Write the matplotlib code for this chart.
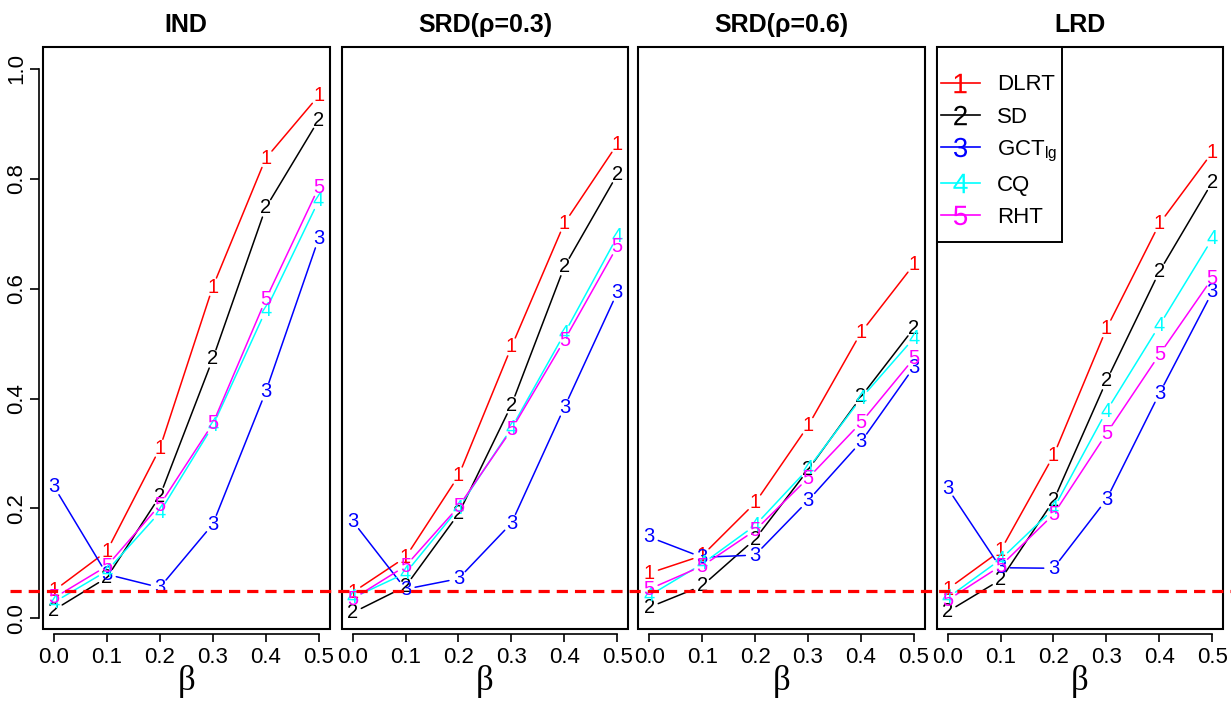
import matplotlib
matplotlib.use("Agg")
import matplotlib.pyplot as plt
import matplotlib.transforms as mtransforms
from matplotlib.lines import Line2D
from matplotlib.patches import Rectangle

plt.rcParams['font.family'] = ['Liberation Sans', 'DejaVu Sans']
plt.rcParams['mathtext.fontset'] = 'custom'
plt.rcParams['mathtext.rm'] = 'Liberation Sans'
plt.rcParams['mathtext.it'] = 'Liberation Sans:italic'

# ---------------- data ----------------
beta = [0.0, 0.1, 0.2, 0.3, 0.4, 0.5]
panel_titles = ["IND", "SRD(ρ=0.3)", "SRD(ρ=0.6)", "LRD"]
method_names = ["DLRT", "SD", r"GCT$_{\mathrm{lg}}$", "CQ", "RHT"]
method_symbols = ["1", "2", "3", "4", "5"]
method_colors = ["#FF0000", "#000000", "#0000FF", "#00FFFF", "#FF00FF"]
x_ticks = [0.0, 0.1, 0.2, 0.3, 0.4, 0.5]
x_tick_labels = ["0.0", "0.1", "0.2", "0.3", "0.4", "0.5"]
y_ticks = [0.0, 0.2, 0.4, 0.6, 0.8, 1.0]
y_tick_labels = ["0.0", "0.2", "0.4", "0.6", "0.8", "1.0"]
nominal_level = 0.05

# IND
ind_dlrt = [0.050, 0.122, 0.309, 0.603, 0.837, 0.951]
ind_sd   = [0.015, 0.074, 0.222, 0.472, 0.747, 0.907]
ind_gct  = [0.240, 0.080, 0.056, 0.171, 0.412, 0.691]
ind_cq   = [0.029, 0.086, 0.193, 0.350, 0.560, 0.760]
ind_rht  = [0.037, 0.095, 0.206, 0.354, 0.580, 0.784]
# SRD rho=0.3
srd3_dlrt = [0.047, 0.111, 0.259, 0.494, 0.719, 0.863]
srd3_sd   = [0.010, 0.058, 0.190, 0.388, 0.640, 0.808]
srd3_gct  = [0.177, 0.053, 0.072, 0.173, 0.384, 0.593]
srd3_cq   = [0.037, 0.082, 0.200, 0.346, 0.518, 0.695]
srd3_rht  = [0.035, 0.095, 0.203, 0.343, 0.506, 0.677]
# SRD rho=0.6
srd6_dlrt = [0.082, 0.114, 0.210, 0.350, 0.520, 0.644]
srd6_sd   = [0.020, 0.059, 0.144, 0.270, 0.403, 0.528]
srd6_gct  = [0.148, 0.111, 0.115, 0.214, 0.321, 0.457]
srd6_cq   = [0.041, 0.099, 0.169, 0.272, 0.400, 0.510]
srd6_rht  = [0.053, 0.095, 0.160, 0.255, 0.356, 0.473]
# LRD
lrd_dlrt = [0.053, 0.123, 0.296, 0.527, 0.718, 0.848]
lrd_sd   = [0.012, 0.070, 0.214, 0.432, 0.631, 0.794]
lrd_gct  = [0.237, 0.092, 0.091, 0.216, 0.409, 0.594]
lrd_cq   = [0.037, 0.107, 0.199, 0.377, 0.533, 0.691]
lrd_rht  = [0.033, 0.095, 0.189, 0.336, 0.480, 0.619]

panels = [
    [ind_dlrt, ind_sd, ind_gct, ind_cq, ind_rht],
    [srd3_dlrt, srd3_sd, srd3_gct, srd3_cq, srd3_rht],
    [srd6_dlrt, srd6_sd, srd6_gct, srd6_cq, srd6_rht],
    [lrd_dlrt, lrd_sd, lrd_gct, lrd_cq, lrd_rht],
]

# ---------------- figure ----------------
W, H = 1231, 706
fig = plt.figure(figsize=(W / 100, H / 100), dpi=100)

lefts_px = [43, 341.7, 638.3, 936.7]
width_px = 286.5
top_px, bottom_px = 47.4, 628.8
height_px = bottom_px - top_px

axes = []
for i, (lp, series, title) in enumerate(zip(lefts_px, panels, panel_titles)):
    ax = fig.add_axes([lp / W, 1 - bottom_px / H, width_px / W, height_px / H])
    axes.append(ax)
    ax.set_xlim(-0.0206, 0.5206)
    ax.set_ylim(-0.0192, 1.0392)

    for vals, sym, col in zip(series, method_symbols, method_colors):
        for j in range(len(beta) - 1):
            ax.annotate("", xy=(beta[j + 1], vals[j + 1]), xytext=(beta[j], vals[j]),
                        arrowprops=dict(arrowstyle="-", color=col, lw=1.1,
                                        shrinkA=7, shrinkB=7), zorder=2)
        for xv, yv in zip(beta, vals):
            ax.text(xv, yv, sym, color=col, fontsize=14.5, ha="center", va="center",
                    zorder=3)

    # box
    ax.add_patch(Rectangle((0, 0), 1, 1, transform=ax.transAxes, fill=False,
                           edgecolor="black", lw=1.5, zorder=5, clip_on=False))
    for s in ["top", "right"]:
        ax.spines[s].set_visible(False)
    ax.spines["bottom"].set_position(("outward", 4))
    ax.spines["bottom"].set_bounds(0.0, 0.5)
    ax.spines["bottom"].set_linewidth(1.2)
    ax.set_xticks(x_ticks)
    ax.set_xticklabels(x_tick_labels)
    ax.tick_params(axis="x", direction="out", length=6, width=1.2, pad=3,
                   labelsize=16)
    if i == 0:
        ax.spines["left"].set_position(("outward", 3))
        ax.spines["left"].set_bounds(0.0, 1.0)
        ax.spines["left"].set_linewidth(1.2)
        ax.set_yticks(y_ticks)
        ax.set_yticklabels(y_tick_labels)
        ax.tick_params(axis="y", direction="out", length=6.5, width=1.2, pad=2,
                       labelsize=16)
        for lab in ax.get_yticklabels():
            lab.set_rotation(90)
            lab.set_va("center")
    else:
        ax.spines["left"].set_visible(False)
        ax.set_yticks([])

    ax.set_title(title, fontsize=18, fontweight="bold", pad=11)
    ax.set_xlabel("β", fontsize=25, family=["Liberation Serif", "DejaVu Serif"],
                  labelpad=-2)

# legend in the last panel (frame drawn separately, R style)
lax = axes[3]
frame_w = 125 / width_px
frame_h = 195 / height_px
lax.add_patch(Rectangle((0, 1 - frame_h), frame_w, frame_h, transform=lax.transAxes,
                        facecolor="white", edgecolor="black", lw=1.4, zorder=6,
                        clip_on=False))
handles = [Line2D([0], [0], color=c, lw=1.2, marker="$" + s + "$", markersize=14,
                  markeredgewidth=0)
           for s, c in zip(method_symbols, method_colors)]
leg = lax.legend(handles, method_names, loc="upper left",
                 bbox_to_anchor=(4 / width_px, 1 - 27 / height_px),
                 borderaxespad=0, borderpad=0, fontsize=16, frameon=False,
                 handlelength=1.75, handletextpad=0.8, labelspacing=0.5)
leg.set_zorder(7)

# nominal level line across the whole figure
trans = mtransforms.blended_transform_factory(fig.transFigure, axes[0].transData)
fig.add_artist(Line2D([0.008, 1.0], [nominal_level, nominal_level], transform=trans,
                      color="#FF0000", lw=2.3, linestyle=(0, (3.5, 2.2)), zorder=10))

fig.savefig("out.png", dpi=100)
